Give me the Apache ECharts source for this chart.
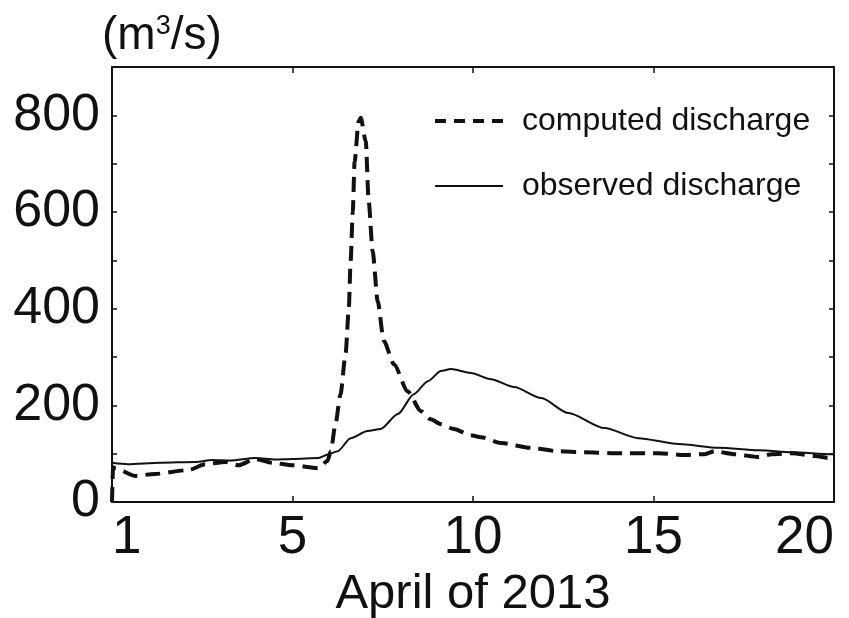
<!DOCTYPE html>
<html>
<head>
<meta charset="utf-8">
<script src="https://cdn.jsdelivr.net/npm/echarts@6/dist/echarts.min.js"></script>
<style>
html,body{margin:0;padding:0;background:#fff;}
#chart{width:849px;height:618px;}
</style>
</head>
<body>
<div id="chart"></div>
<script>
// Day offsets from the start of April 1, 2013 (axis runs 0..20)
const observedDays = [0.00, 0.44, 1.33, 2.31, 2.78, 3.28, 3.97, 4.53, 5.00, 5.72, 6.00, 6.25, 6.61, 7.08, 7.44, 7.92, 8.36, 8.75, 9.11, 9.39, 9.94, 10.50, 11.14, 11.89, 12.64, 13.64, 14.58, 15.69, 16.81, 17.92, 18.83, 19.94, 20.00];
const observedValues = [81, 78, 81, 83, 87, 86, 91, 88, 89, 91, 99, 105, 132, 147, 151, 182, 223, 250, 271, 275, 267, 254, 238, 215, 184, 153, 132, 120, 112, 107, 103, 99, 98];

const computedDays = [0.00, 0.03, 0.08, 0.64, 1.19, 2.11, 2.58, 3.14, 3.50, 3.97, 4.44, 5.00, 5.72, 5.97, 6.06, 6.19, 6.33, 6.47, 6.56, 6.61, 6.67, 6.72, 6.83, 6.89, 7.03, 7.11, 7.22, 7.36, 7.53, 7.81, 8.19, 8.56, 8.83, 9.11, 9.47, 9.94, 10.22, 10.78, 11.61, 12.36, 13.08, 13.83, 15.14, 15.86, 16.42, 16.69, 17.25, 17.92, 18.28, 18.83, 19.47, 19.86, 20.00];
const computedValues = [0, 72, 70, 54, 58, 66, 78, 83, 76, 89, 81, 76, 70, 85, 105, 161, 223, 306, 401, 498, 601, 704, 787, 795, 746, 622, 519, 415, 333, 285, 229, 188, 171, 161, 151, 138, 134, 122, 112, 105, 103, 101, 101, 97, 99, 105, 99, 93, 99, 101, 95, 91, 90];

const xTickValues = [0, 5, 10, 15, 20];
const xTickLabels = ['1', '5', '10', '15', '20'];
const yLabelValues = [0, 200, 400, 600, 800];

const seriesNames = ['computed discharge', 'observed discharge'];
const xAxisTitle = 'April of 2013';

const pair = (xs, ys) => xs.map((x, i) => [x, ys[i]]);

const FONT = 'Liberation Sans, Arial, sans-serif';
const chart = echarts.init(document.getElementById('chart'), null, {renderer: 'canvas'});

const frameLine = {show: true, onZero: false, lineStyle: {color: '#111', width: 2}};

chart.setOption({
  animation: false,
  backgroundColor: '#fff',
  title: {
    text: '(m{sup|3}/s)',
    left: 97,
    top: 8,
    textStyle: {
      fontFamily: FONT, fontSize: 46, fontWeight: 'normal', color: '#111',
      rich: {sup: {fontFamily: FONT, fontSize: 27, color: '#111', verticalAlign: 'top', padding: [0, 0, 18, 0]}}
    }
  },
  legend: {
    orient: 'vertical',
    left: 428,
    top: 100,
    itemWidth: 68,
    itemHeight: 14,
    itemGap: 33,
    data: [
      {name: seriesNames[0], lineStyle: {type: [11, 8], width: 4, color: '#111'}},
      {name: seriesNames[1], lineStyle: {type: 'solid', width: 2, color: '#111'}}
    ],
    itemStyle: {color: 'rgba(0,0,0,0)', borderWidth: 0},
    textStyle: {fontFamily: FONT, fontSize: 32, color: '#111', padding: [0, 0, 0, 14]}
  },
  grid: {left: 112, right: 15, top: 67, bottom: 116, containLabel: false, outerBoundsMode: 'none'},
  xAxis: [{
    type: 'value', position: 'bottom', min: 0, max: 20, interval: 5,
    axisLine: frameLine,
    axisTick: {show: true, inside: true, length: 6, lineStyle: {color: '#111', width: 1.5}},
    axisLabel: {
      fontFamily: FONT, fontSize: 53, color: '#111', margin: 10,
      alignMinLabel: 'left', alignMaxLabel: 'right',
      formatter: v => { const i = xTickValues.indexOf(v); return i >= 0 ? xTickLabels[i] : ''; }
    },
    splitLine: {show: false},
    name: xAxisTitle, nameLocation: 'middle', nameGap: 46,
    nameTextStyle: {fontFamily: FONT, fontSize: 49, color: '#111'}
  }, {
    type: 'value', position: 'top', min: 0, max: 20, interval: 5,
    axisLine: frameLine,
    axisTick: {show: true, inside: true, length: 6, lineStyle: {color: '#111', width: 1.5}},
    axisLabel: {show: false},
    splitLine: {show: false}
  }],
  yAxis: [{
    type: 'value', position: 'left', min: 0, max: 900, interval: 100,
    axisLine: frameLine,
    axisTick: {show: true, inside: true, length: 5, lineStyle: {color: '#111', width: 1.5}},
    axisLabel: {
      fontFamily: FONT, fontSize: 52, color: '#111', margin: 12,
      formatter: v => yLabelValues.indexOf(v) >= 0 ? String(v) : ''
    },
    splitLine: {show: false}
  }, {
    type: 'value', position: 'right', min: 0, max: 900, interval: 100,
    axisLine: frameLine,
    axisTick: {show: true, inside: true, length: 5, lineStyle: {color: '#111', width: 1.5}},
    axisLabel: {show: false},
    splitLine: {show: false}
  }],
  series: [{
    name: seriesNames[0],
    type: 'line',
    xAxisIndex: 0, yAxisIndex: 0,
    data: pair(computedDays, computedValues),
    showSymbol: false, symbol: 'none', symbolSize: 0,
    smooth: 0.25, smoothMonotone: 'x',
    lineStyle: {color: '#111', width: 4, type: [15, 8]},
    itemStyle: {color: '#111'}
  }, {
    name: seriesNames[1],
    type: 'line',
    xAxisIndex: 0, yAxisIndex: 0,
    data: pair(observedDays, observedValues),
    showSymbol: false, symbol: 'none', symbolSize: 0,
    smooth: 0.25, smoothMonotone: 'x',
    lineStyle: {color: '#111', width: 2},
    itemStyle: {color: '#111'}
  }]
});
</script>
</body>
</html>
